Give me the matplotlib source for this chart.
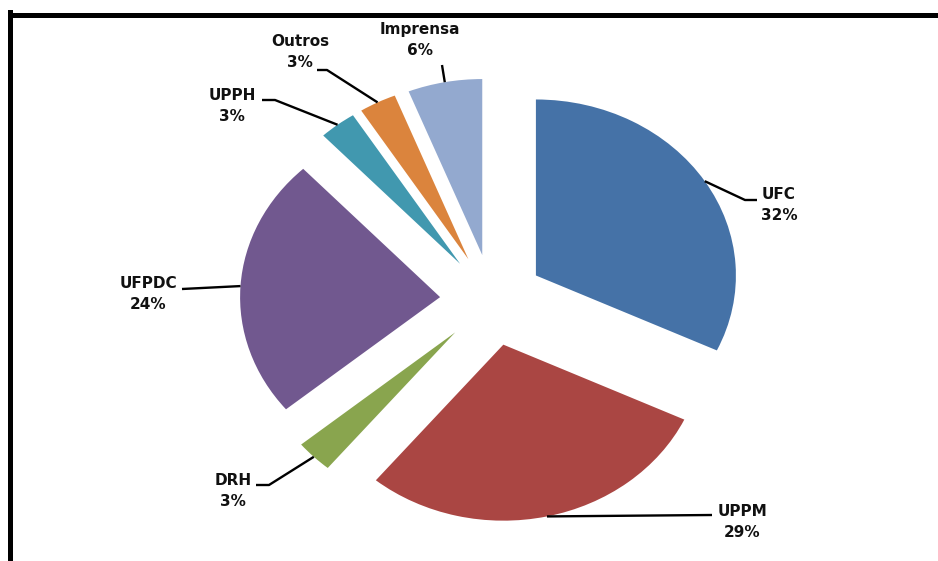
import matplotlib
matplotlib.use("Agg")
import matplotlib.pyplot as plt
from matplotlib.lines import Line2D
import numpy as np

categories = ['UFC', 'UPPM', 'DRH', 'UFPDC', 'UPPH', 'Outros', 'Imprensa']
percentages = [32, 29, 3, 24, 3, 3, 6]
colors = ['#4572A7', '#AA4643', '#89A54E', '#71588F', '#4198AF', '#DB843D', '#93A9CF']

# label block centres and leader elbows, in image pixels (layout only)
label_pos = [(779, 205), (742, 522), (233, 491), (148, 294), (232, 106), (300, 52), (420, 40)]
leader_pts = [[(745, 200), (757, 200)],
              [(712, 515)],
              [(269, 485), (256, 485)],
              [(182, 289)],
              [(275, 100), (262, 100)],
              [(327, 70), (317, 70)],
              [(442, 65)]]

W, H = 938, 561
cx, cy, rx, ry = 492, 300, 200, 176   # pie centre / radii in pixels
explode = 0.26


def to_data(x, y):
    return (x - cx) / rx, (cy - y) / ry


fig = plt.figure(figsize=(W / 100, H / 100), dpi=100)
ax = fig.add_axes([0, 0, 1, 1])

wedges, _ = ax.pie(percentages, colors=colors, startangle=90, counterclock=False,
                   explode=[explode] * len(percentages), radius=1)
ax.set_aspect('auto')
ax.set_xlim(to_data(0, 0)[0], to_data(W, 0)[0])
ax.set_ylim(to_data(0, H)[1], to_data(0, 0)[1])
ax.axis('off')

for w, cat, pct, lp, pts in zip(wedges, categories, percentages, label_pos, leader_pts):
    mid = np.deg2rad((w.theta1 + w.theta2) / 2)
    r = 1 + explode
    xs = [r * np.cos(mid)]
    ys = [r * np.sin(mid)]
    for p in pts:
        dx, dy = to_data(*p)
        xs.append(dx)
        ys.append(dy)
    ax.plot(xs, ys, color='black', lw=1.7, solid_capstyle='butt')
    tx, ty = to_data(*lp)
    ax.text(tx, ty, f"{cat}\n{pct}%", ha='center', va='center', fontsize=11,
            fontweight='bold', linespacing=1.45, color='#111111')

# frame (top and left edges visible)
fig.add_artist(Line2D([9.5 / W, 1], [1 - 14.5 / H, 1 - 14.5 / H], color='black', lw=3.6,
                      transform=fig.transFigure))
fig.add_artist(Line2D([9.5 / W, 9.5 / W], [1 - 12 / H, 0], color='black', lw=3.6,
                      transform=fig.transFigure))

fig.savefig('out.png', dpi=100)
